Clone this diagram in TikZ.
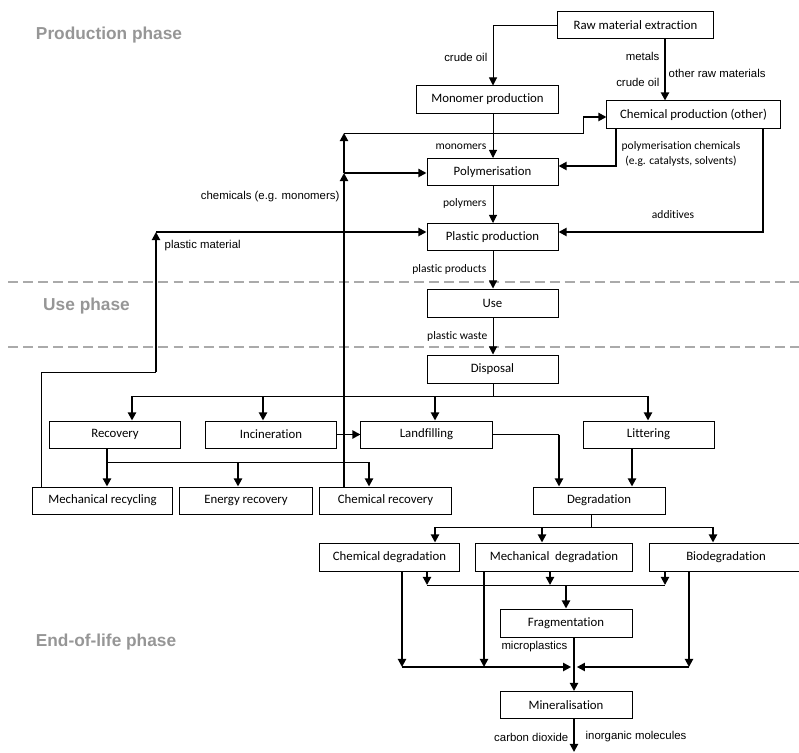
\documentclass[tikz,border=0pt]{standalone}
\usepackage{fontspec}
\setmainfont{Liberation Sans}
\newfontfamily\calibri[Ligatures=NoCommon]{Carlito}
\usepackage{tikz}
\usetikzlibrary{arrows.meta, positioning}
\definecolor{phasegray}{RGB}{150,150,150}
\definecolor{dashgray}{RGB}{170,170,170}

\begin{document}
\begin{tikzpicture}[x=0.025cm, y=-0.025cm, >={Triangle[length=5.8pt, width=5.8pt]},
    box/.style={draw, line width=0.7pt, minimum width=3.275cm, minimum height=0.675cm,
        inner sep=1pt, font=\calibri\fontsize{9.1}{11}\selectfont},
    lab/.style={inner sep=1pt, font=\calibri\fontsize{8.2}{10}\selectfont},
    alab/.style={inner sep=1pt, font=\fontsize{8.1}{10}\selectfont},
    phase/.style={text=phasegray, font=\bfseries\fontsize{12.3}{14}\selectfont},
    fine/.style={line width=0.7pt},
    bold/.style={line width=1.4pt},
    sep/.style={draw=dashgray, line width=2.1pt, dash pattern=on 7.1pt off 3.6pt}]
    \useasboundingbox (0,0) rectangle (799,753);

    % 1. Phase separators and labels
    \draw[sep] (8,282) -- (799,282);
    \draw[sep] (8,347) -- (799,347);
    \node[phase] (prodph) at (109,35) {Production phase};
    \node[phase] (useph) at (86.5,306) {Use phase};
    \node[phase] (eolph) at (106,642) {End-of-life phase};

    % 2. Production boxes
    \node[box, minimum width=3.875cm] (rme) at (635.5,25) {Raw material extraction};
    \node[box, minimum width=3.525cm] (mono) at (487.5,99.5) {Monomer production};
    \node[box, minimum width=4.325cm] (chem) at (693.5,114.5) {Chemical production (other)};
    \node[box] (poly) at (492.5,172) {Polymerisation};
    \node[box] (plast) at (492.5,237) {Plastic production};
    \node[box, minimum height=0.7cm] (use) at (492.5,303) {Use};

    % 3. End-of-life boxes
    \node[box, minimum height=0.7cm] (disp) at (492.5,369) {Disposal};
    \node[box] (recov) at (115,434.5) {Recovery};
    \node[box] (incin) at (271,434.5) {Incineration};
    \node[box] (landf) at (426.5,434.5) {Landfilling};
    \node[box] (litter) at (648.5,434.5) {Littering};
    \node[box, minimum width=3.475cm] (mechrec) at (102.5,500.5) {Mechanical recycling};
    \node[box, minimum width=3.3cm] (energy) at (246,500.5) {Energy recovery};
    \node[box] (chemrec) at (385.5,500.5) {Chemical recovery};
    \node[box, minimum width=3.3cm] (degr) at (599,500.5) {Degradation};
    \node[box, minimum width=3.475cm, minimum height=0.7cm] (chemdeg) at (389.5,557) {Chemical degradation};
    \node[box, minimum width=3.9cm, minimum height=0.7cm] (mechdeg) at (554,557) {Mechanical\ \ degradation};
    \node[box, minimum width=3.85cm, minimum height=0.7cm] (bio) at (726,557) {Biodegradation};
    \node[box, minimum width=3.3cm, minimum height=0.7cm] (frag) at (566,623) {Fragmentation};
    \node[box, minimum width=3.3cm] (miner) at (566,705) {Mineralisation};

    % 4. Junction points
    \coordinate (k1) at (493,27);
    \coordinate (k2) at (665,27);
    \coordinate (k3) at (616,166);
    \coordinate (k4) at (763,232);
    \coordinate (c1) at (344,173);
    \coordinate (c2) at (344,133);
    \coordinate (c3) at (583,133);
    \coordinate (c4) at (583,117);
    \coordinate (m1) at (41,372);
    \coordinate (m2) at (156,372);
    \coordinate (m3) at (156,232);
    \coordinate (d0) at (493,396);
    \coordinate (d1) at (132,396);
    \coordinate (d2) at (263,396);
    \coordinate (d3) at (435,396);
    \coordinate (d4) at (648,396);
    \coordinate (k6) at (559,437);
    \coordinate (k7) at (632,448);
    \coordinate (r0) at (107,462);
    \coordinate (r1) at (238,462);
    \coordinate (r2) at (369,462);
    \coordinate (g0) at (591,527);
    \coordinate (g1) at (435,527);
    \coordinate (g2) at (542,527);
    \coordinate (g3) at (713,527);
    \coordinate (h0) at (566,585);
    \coordinate (h1) at (427,585);
    \coordinate (h2) at (550,585);
    \coordinate (h3) at (665,585);
    \coordinate (l0) at (574,667);
    \coordinate (l1) at (402,667);
    \coordinate (l2) at (484,667);
    \coordinate (l3) at (689,667);
    \coordinate (out) at (574,752);

    % 5. Production flows
    \draw[fine, ->] (rme.west) -- (rme.west -| k1) -- (k1 |- mono.north);
    \draw[bold, ->] (k2 |- rme.south) -- (k2 |- chem.north);
    \draw[fine, ->] (k1 |- mono.south) -- (k1 |- poly.north);
    \draw[bold, ->] (k3 |- chem.south) -- (k3) -- (k3 -| poly.east);
    \draw[bold, ->] (k4 |- chem.south) -- (k4) -- (k4 -| plast.east);
    \draw[fine, ->] (k1 |- poly.south) -- (k1 |- plast.north);
    \draw[fine, ->] (k1 |- plast.south) -- (k1 |- use.north);
    \draw[fine, ->] (k1 |- use.south) -- (k1 |- disp.north);

    % 6. Recycling loops
    \draw[bold, ->] (c1 |- chemrec.north) -- (c1);
    \draw[bold, ->] (c1) -- (c1 -| poly.west);
    \draw[bold, ->] (c1) -- (c2);
    \draw[fine] (c2) -- (c3) -- (c4);
    \draw[bold, ->] (c4) -- (c4 -| chem.west);
    \draw[fine] (m1 |- mechrec.north) -- (m1) -- (m2);
    \draw[bold, ->] (m2) -- (m3);
    \draw[bold, ->] (m3) -- (m3 -| plast.west);

    % 7. Disposal routes
    \draw[fine] (d0 |- disp.south) -- (d0);
    \draw[fine] (d1) -- (d4);
    \draw[bold, ->] (d1) -- (d1 |- recov.north);
    \draw[bold, ->] (d2) -- (d2 |- incin.north);
    \draw[bold, ->] (d3) -- (d3 |- landf.north);
    \draw[bold, ->] (d4) -- (d4 |- litter.north);
    \draw[bold, ->] (incin.east) -- (landf.west);
    \draw[fine] (landf.east) -- (landf.east -| k6);
    \draw[bold, ->] (landf.east -| k6) -- (k6 |- degr.north);
    \draw[bold, ->] (k7 |- litter.south) -- (k7 |- degr.north);
    \draw[bold, ->] (r0 |- recov.south) -- (r0 |- mechrec.north);
    \draw[fine] (r0) -- (r2);
    \draw[bold, ->] (r1) -- (r1 |- energy.north);
    \draw[bold, ->] (r2) -- (r2 |- chemrec.north);

    % 8. Degradation routes
    \draw[fine] (g0 |- degr.south) -- (g0);
    \draw[fine] (g1) -- (g3);
    \draw[bold, ->] (g1) -- (g1 |- chemdeg.north);
    \draw[bold, ->] (g2) -- (g2 |- mechdeg.north);
    \draw[bold, ->] (g3) -- (g3 |- bio.north);
    \draw[bold, ->] (h1 |- chemdeg.south) -- (h1);
    \draw[bold, ->] (h2 |- mechdeg.south) -- (h2);
    \draw[bold, ->] (h3 |- bio.south) -- (h3);
    \draw[fine] (h1) -- (h3);
    \draw[bold, ->] (h0) -- (h0 |- frag.north);
    \draw[bold, ->] (l1 |- chemdeg.south) -- (l1);
    \draw[bold, ->] (l2 |- mechdeg.south) -- (l2);
    \draw[bold, ->] (l3 |- bio.south) -- (l3);
    \draw[bold, ->, shorten >=2pt] (l1) -- (l0);
    \draw[bold, ->, shorten >=2pt] (l3) -- (l0);
    \draw[bold, ->] (l0 |- frag.south) -- (l0 |- miner.north);
    \draw[bold, ->] (l0 |- miner.south) -- (out);

    % 9. Flow labels
    \node[alab, anchor=east] (lcrude) at (489,57) {crude oil};
    \node[alab, anchor=east] (lmetals) at (661,56) {metals};
    \node[alab, anchor=east] (lcrude2) at (661,82) {crude oil};
    \node[alab, anchor=west] (lother) at (667,73) {other raw materials};
    \node[lab, anchor=east] (lmono) at (488,147) {monomers};
    \node[lab, align=center] (lpolchem) at (681,154) {polymerisation chemicals\\(e.g. catalysts, solvents)};
    \node[alab, anchor=east] (lchems) at (341,197) {chemicals (e.g. monomers)};
    \node[lab, anchor=east] (lpolym) at (488,203) {polymers};
    \node[lab] (ladd) at (673,215) {additives};
    \node[alab, anchor=west] (lplmat) at (163,246) {plastic material};
    \node[lab, anchor=east] (lprod) at (488,269) {plastic products};
    \node[lab, anchor=east] (lwaste) at (489,336) {plastic waste};
    \node[alab, anchor=east] (lmicro) at (569,647) {microplastics};
    \node[alab, anchor=east] (lco2) at (570,737) {carbon dioxide};
    \node[alab, anchor=west] (linorg) at (584,737) {inorganic molecules};
\end{tikzpicture}
\end{document}
